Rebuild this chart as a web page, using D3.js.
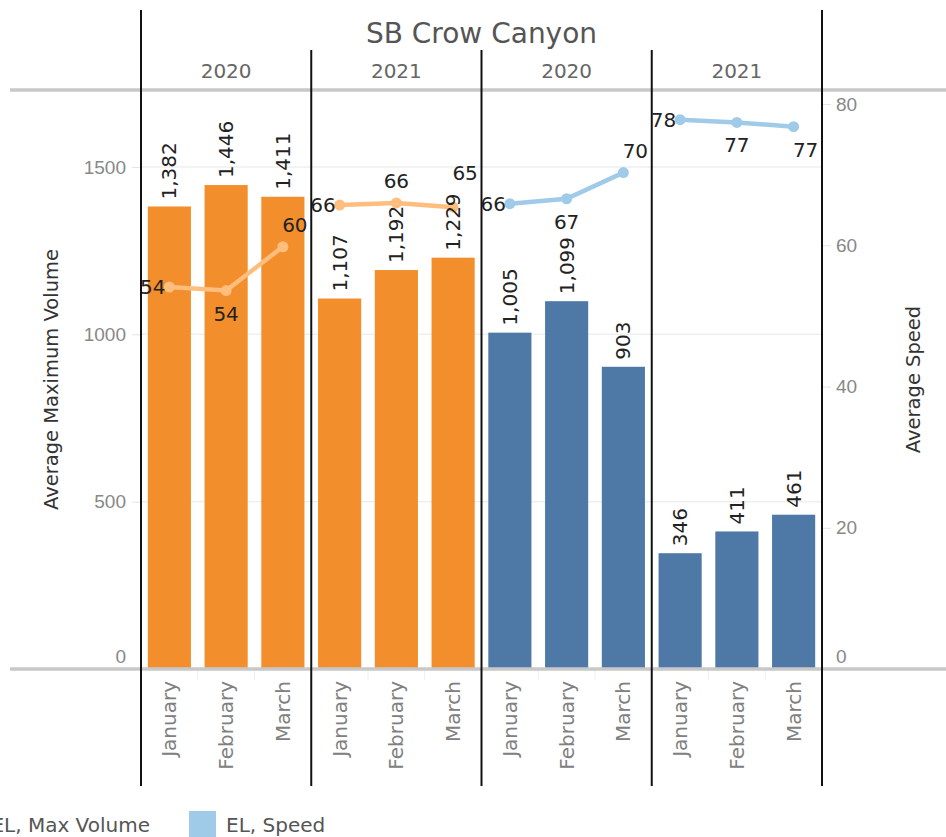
<!DOCTYPE html>
<html>
<head>
<meta charset="utf-8">
<title>SB Crow Canyon</title>
<script src="https://d3js.org/d3.v7.min.js"></script>
<style>
  body { margin: 0; background: #fff; }
  svg { display: block; font-family: "DejaVu Sans", sans-serif; }
  .tick text { fill: #888; font-size: 19px; }
  .tick line { stroke: #e4e4e4; }
</style>
</head>
<body>
<div id="chart"></div>
<script>
// values
const title = "SB Crow Canyon";
const years = ["2020", "2021", "2020", "2021"];
const panelSet = ["A", "A", "EL", "EL"];   // which colour pair each panel uses
const months = ["January", "February", "March"];
const maxVolume = [
  [1382, 1446, 1411],
  [1107, 1192, 1229],
  [1005, 1099, 903],
  [346, 411, 461]
];
const avgSpeed = [
  [54.1, 53.6, 59.8],
  [65.7, 66.0, 65.4],
  [65.9, 66.6, 70.3],
  [77.8, 77.4, 76.8]
];
const volumeTicks = [0, 500, 1000, 1500];
const speedTicks = [0, 20, 40, 60, 80];
const legendLabels = ["EL, Max Volume", "EL, Speed"];

const W = 946, H = 837;
const plotLeft = 141, plotRight = 822, plotTop = 90, base = 669;

const svg = d3.select("#chart").append("svg")
  .attr("width", W).attr("height", H);

const panels = d3.range(years.length);
const xPanel = d3.scaleBand().domain(panels).range([plotLeft, plotRight]);
const xMonth = d3.scaleBand().domain(months).range([0, xPanel.bandwidth()])
  .paddingInner(0.24).paddingOuter(0.12);

const yVol = d3.scaleLinear().domain([0, 1730]).range([base, plotTop]);
const ySpd = d3.scaleLinear().domain([0, 82]).range([base, plotTop]);

const barColor = d3.scaleOrdinal().domain(["A", "EL"]).range(["#f28e2b", "#4e79a7"]);
const lineColor = d3.scaleOrdinal().domain(["A", "EL"]).range(["#ffbe7d", "#a0cbe8"]);

// gridlines
svg.append("g").selectAll("line")
  .data(volumeTicks.filter(d => d > 0))
  .enter().append("line")
  .attr("x1", plotLeft).attr("x2", plotRight)
  .attr("y1", d => yVol(d)).attr("y2", d => yVol(d))
  .attr("stroke", "#efefef").attr("stroke-width", 1.5);

// left axis
const axL = svg.append("g")
  .attr("transform", "translate(" + plotLeft + ",0)")
  .call(d3.axisLeft(yVol).tickValues(volumeTicks).tickFormat(d3.format("d")).tickSize(9).tickPadding(6));
axL.select(".domain").remove();
axL.selectAll(".tick text").filter(d => d === 0).attr("dy", "-0.35em");

// right axis
const axR = svg.append("g")
  .attr("transform", "translate(" + plotRight + ",0)")
  .call(d3.axisRight(ySpd).tickValues(speedTicks).tickSize(9).tickPadding(5));
axR.select(".domain").remove();
axR.selectAll(".tick text").filter(d => d === 0).attr("dy", "-0.35em");

// axis titles
svg.append("text")
  .attr("transform", "translate(58," + (plotTop + base) / 2 + ") rotate(-90)")
  .attr("text-anchor", "middle")
  .style("font-size", "19.5px").style("fill", "#333")
  .text("Average Maximum Volume");
svg.append("text")
  .attr("transform", "translate(920," + (plotTop + base) / 2 + ") rotate(-90)")
  .attr("text-anchor", "middle")
  .style("font-size", "19.5px").style("fill", "#333")
  .text("Average Speed");

// panels
const panel = svg.selectAll(".panel")
  .data(panels)
  .enter().append("g")
  .attr("class", "panel")
  .attr("transform", p => "translate(" + xPanel(p) + ",0)");

// bars
panel.selectAll(".bar")
  .data(p => months.map((m, i) => ({ p, m, v: maxVolume[p][i] })))
  .enter().append("rect")
  .attr("class", "bar")
  .attr("x", d => xMonth(d.m))
  .attr("y", d => yVol(d.v))
  .attr("width", xMonth.bandwidth())
  .attr("height", d => base - yVol(d.v))
  .attr("fill", d => barColor(panelSet[d.p]));

// speed lines
const line = d3.line()
  .x(d => xMonth(d.m) + xMonth.bandwidth() / 2)
  .y(d => ySpd(d.v));

const speedPts = p => months.map((m, i) => ({ p, m, i, v: avgSpeed[p][i], vol: maxVolume[p][i] }));

panel.append("path")
  .attr("d", p => line(speedPts(p)))
  .attr("fill", "none")
  .attr("stroke", p => lineColor(panelSet[p]))
  .attr("stroke-width", 4.5);

panel.selectAll(".dot")
  .data(p => speedPts(p))
  .enter().append("circle")
  .attr("class", "dot")
  .attr("cx", d => xMonth(d.m) + xMonth.bandwidth() / 2)
  .attr("cy", d => ySpd(d.v))
  .attr("r", 5.5)
  .attr("fill", d => lineColor(panelSet[d.p]));

// bar labels
const barLabelLen = 58;
panel.selectAll(".blab")
  .data(p => months.map((m, i) => ({ p, m, v: maxVolume[p][i] })))
  .enter().append("text")
  .attr("class", "blab")
  .attr("transform", d => "translate(" + (xMonth(d.m) + xMonth.bandwidth() / 2 + 7) + "," + (yVol(d.v) - 7) + ") rotate(-90)")
  .attr("text-anchor", "start")
  .style("font-size", "20px").style("fill", "#222")
  .text(d => d3.format(",")(d.v));

// speed labels: first month to the left, others above or below,
// flipped above when a label below would run into the bar label
function place(d) {
  const s = avgSpeed[d.p];
  if (d.i === 0) return "left";
  if (d.i === 1) return (s[1] > s[0] && s[1] > s[2]) ? "above" : "below";
  if (s[2] > s[1]) return "above";
  const cy = ySpd(d.v), barTop = yVol(d.vol);
  const hits = cy < barTop && cy + 30 > barTop - 7 - barLabelLen;
  return hits ? "above" : "below";
}

panel.selectAll(".slab")
  .data(p => speedPts(p))
  .enter().append("text")
  .attr("class", "slab")
  .style("font-size", "20px").style("fill", "#222")
  .each(function (d) {
    const cx = xMonth(d.m) + xMonth.bandwidth() / 2;
    const cy = ySpd(d.v);
    const where = place(d);
    const t = d3.select(this).text(Math.round(d.v));
    const shift = d.i === 2 ? 12 : 0;
    if (where === "left") {
      t.attr("x", cx - 4).attr("y", cy + 7).attr("text-anchor", "end");
    } else if (where === "above") {
      let y = cy - 15;
      // keep clear of the bar label when the point sits just above the bar
      if (cy < yVol(d.vol) && cy > yVol(d.vol) - 80) y = Math.min(y, yVol(d.vol) - 78);
      t.attr("x", cx + shift).attr("y", y).attr("text-anchor", "middle");
    } else {
      t.attr("x", cx + shift).attr("y", cy + 30).attr("text-anchor", "middle");
    }
  });

// month labels
panel.selectAll(".mlab")
  .data(months)
  .enter().append("text")
  .attr("class", "mlab")
  .attr("transform", m => "translate(" + (xMonth(m) + xMonth.bandwidth() / 2 + 7) + "," + (base + 12) + ") rotate(-90)")
  .attr("text-anchor", "end")
  .style("font-size", "20px").style("fill", "#808080")
  .text(m => m);

// faint separators under the axis between months
panel.selectAll(".msep")
  .data(months.slice(1))
  .enter().append("line")
  .attr("x1", m => xMonth(m) - xMonth.step() * 0.12)
  .attr("x2", m => xMonth(m) - xMonth.step() * 0.12)
  .attr("y1", base).attr("y2", base + 11)
  .attr("stroke", "#eeeeee");

// year headers
panel.append("text")
  .attr("x", xPanel.bandwidth() / 2)
  .attr("y", 78)
  .attr("text-anchor", "middle")
  .style("font-size", "20px").style("fill", "#666")
  .text(p => years[p]);

// title
svg.append("text")
  .attr("x", (plotLeft + plotRight) / 2)
  .attr("y", 43)
  .attr("text-anchor", "middle")
  .style("font-size", "28px").style("fill", "#555")
  .text(title);

// gray header and baseline rules
[plotTop, base].forEach(y => {
  svg.append("line")
    .attr("x1", 10).attr("x2", W)
    .attr("y1", y).attr("y2", y)
    .attr("stroke", "#c8c8c8").attr("stroke-width", 3.5);
});

// panel dividers
const edges = panels.map(p => xPanel(p)).concat([plotRight]);
svg.append("g").selectAll("line")
  .data(edges)
  .enter().append("line")
  .attr("x1", d => d).attr("x2", d => d)
  .attr("y1", (d, i) => (i === 0 || i === edges.length - 1) ? 10 : 50)
  .attr("y2", 786)
  .attr("stroke", "#111").attr("stroke-width", 2);

// legend (first entry runs off the left edge, as in the original)
svg.append("text")
  .attr("x", 150).attr("y", 832)
  .attr("text-anchor", "end")
  .style("font-size", "20px").style("fill", "#555")
  .text(legendLabels[0]);
svg.append("rect")
  .attr("x", 189).attr("y", 811).attr("width", 27).attr("height", 27)
  .attr("fill", lineColor("EL"));
svg.append("text")
  .attr("x", 226).attr("y", 832)
  .style("font-size", "20px").style("fill", "#555")
  .text(legendLabels[1]);
</script>
</body>
</html>
